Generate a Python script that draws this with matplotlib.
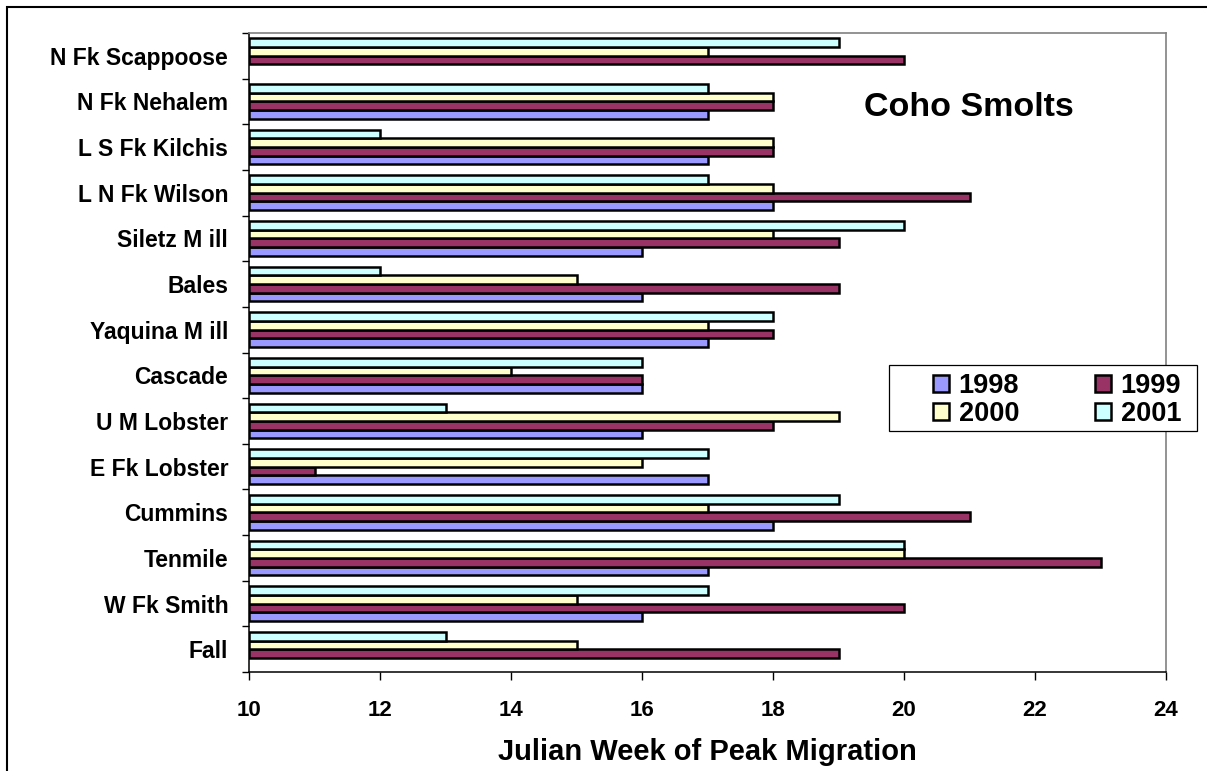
import numpy as np
import matplotlib
matplotlib.use("Agg")
import matplotlib.pyplot as plt
from matplotlib.patches import Rectangle

plt.rcParams['font.family'] = ['Liberation Sans', 'DejaVu Sans']
plt.rcParams['font.weight'] = 'bold'

# Datos (de arriba hacia abajo como en el gráfico)
streams = ["N Fk Scappoose", "N Fk Nehalem", "L S Fk Kilchis", "L N Fk Wilson",
           "Siletz M ill", "Bales", "Yaquina M ill", "Cascade", "U M Lobster",
           "E Fk Lobster", "Cummins", "Tenmile", "W Fk Smith", "Fall"]
years = ["1998", "1999", "2000", "2001"]
w1998 = [np.nan, 17, 17, 18, 16, 16, 17, 16, 16, 17, 18, 17, 16, np.nan]
w1999 = [20, 18, 18, 21, 19, 19, 18, 16, 18, 11, 21, 23, 20, 19]
w2000 = [17, 18, 18, 18, 18, 15, 17, 14, 19, 16, 17, 20, 15, 15]
w2001 = [19, 17, 12, 17, 20, 12, 18, 16, 13, 17, 19, 20, 17, 13]
colors = ["#9999FF", "#993366", "#FFFFCC", "#CCFFFF"]
x_ticks = [10, 12, 14, 16, 18, 20, 22, 24]

W, H = 1207, 771
fig = plt.figure(figsize=(W / 100, H / 100), dpi=100)
ax = fig.add_axes([249 / W, 1 - 672 / H, (1166 - 249) / W, (672 - 33) / H])

n = len(streams)
ypos = np.arange(n)[::-1]  # Fall abajo
bar_h = 0.19
base = 10
handles = []
for i, (vals, col) in enumerate(zip([w1998, w1999, w2000, w2001], colors)):
    vals = np.array(vals, dtype=float)
    ok = ~np.isnan(vals)
    off = (i - 1.5) * bar_h
    b = ax.barh(ypos[ok] + off, vals[ok] - base, left=base, height=bar_h,
                color=col, edgecolor="black", linewidth=1.8, zorder=3)
    handles.append(b)

ax.set_xlim(10, 24)
ax.set_ylim(-0.5, n - 0.5)
ax.set_xticks(x_ticks)
ax.set_xticklabels([str(t) for t in x_ticks], fontsize=16, fontweight="bold")
ax.set_yticks(ypos)
ax.set_yticklabels(streams, fontsize=16.5, fontweight="bold")
ax.set_yticks(np.arange(-0.5, n, 1.0), minor=True)
ax.tick_params(axis="y", which="major", length=0, pad=15)
ax.tick_params(axis="y", which="minor", length=5, width=1.0, direction="out")
ax.tick_params(axis="x", which="major", length=5.5, width=1.0, direction="out", pad=15)
ax.set_xlabel("Julian Week of Peak Migration", fontsize=21, fontweight="bold", labelpad=12)

for s in ["left", "bottom"]:
    ax.spines[s].set_color("black")
    ax.spines[s].set_linewidth(1.1)
for s in ["top", "right"]:
    ax.spines[s].set_color("#808080")
    ax.spines[s].set_linewidth(1.2)

fig.text(969 / W, 1 - 107 / H, "Coho Smolts", fontsize=24.5, fontweight="bold",
         ha="center", va="center")

# Marco de la leyenda y leyenda
fig.patches.append(Rectangle((889 / W, 1 - 431 / H), (1197 - 889) / W, (431 - 365) / H,
                             transform=fig.transFigure, facecolor="white",
                             edgecolor="black", linewidth=0.9, zorder=5))
order = [0, 2, 1, 3]
leg = fig.legend([handles[k] for k in order], [years[k] for k in order],
                 ncol=2, loc="center left", bbox_to_anchor=(914 / W, 1 - 400 / H),
                 bbox_transform=fig.transFigure, frameon=False,
                 prop={"size": 19.5, "weight": "bold"}, handlelength=0.6, handleheight=0.6,
                 handletextpad=0.35, columnspacing=2.8, labelspacing=0.05,
                 borderpad=0.2)
leg.set_zorder(6)

# Borde exterior de la figura
fig.patches.append(Rectangle((7 / W, -0.1), 1.2, 1.1 - 7 / H, transform=fig.transFigure,
                             facecolor="none", edgecolor="black", linewidth=1.5))

fig.savefig("out.png", dpi=100)
